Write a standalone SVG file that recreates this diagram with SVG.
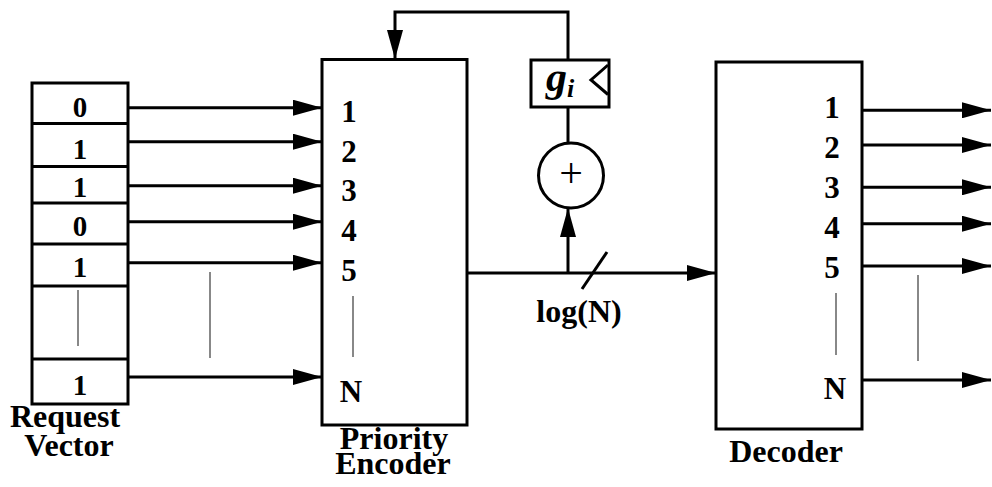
<svg xmlns="http://www.w3.org/2000/svg" width="992" height="487" viewBox="0 0 992 487">
<style>
.box{fill:#fff;stroke:#000;stroke-width:3}
.ln{fill:none;stroke:#000;stroke-width:3}
.gr{fill:none;stroke:#888;stroke-width:2}
.t{font-family:"Liberation Serif","Times New Roman",serif;font-weight:bold;fill:#000}
.d{font-size:29px;text-anchor:middle}
.l{font-size:31px;text-anchor:middle}
.c{font-size:32px;text-anchor:middle}
</style>
<defs>
<marker id="ah" markerUnits="userSpaceOnUse" markerWidth="29" markerHeight="16" refX="29" refY="8" orient="auto">
<path d="M0,0 L29,8 L0,16 z" fill="#000"/>
</marker>
</defs>
<rect width="992" height="487" fill="#fff"/>
<g id="request-vector">
<rect class="box" x="32" y="83" width="96" height="321"/>
<line class="ln" x1="32" y1="123.5" x2="128" y2="123.5"/>
<line class="ln" x1="32" y1="166.5" x2="128" y2="166.5"/>
<line class="ln" x1="32" y1="203" x2="128" y2="203"/>
<line class="ln" x1="32" y1="244" x2="128" y2="244"/>
<line class="ln" x1="32" y1="286" x2="128" y2="286"/>
<line class="ln" x1="32" y1="359" x2="128" y2="359"/>
<line class="gr" x1="78" y1="290" x2="78" y2="346"/>
<text class="t d" x="80" y="117">0</text>
<text class="t d" x="80" y="159">1</text>
<text class="t d" x="80" y="197">1</text>
<text class="t d" x="80" y="236">0</text>
<text class="t d" x="80" y="277">1</text>
<text class="t d" x="80" y="395">1</text>
<text class="t c" x="65" y="427">Request</text>
<text class="t c" x="69" y="456">Vector</text>
</g>
<g id="priority-encoder">
<rect class="box" x="322" y="59.5" width="145" height="365.5"/>
<text class="t l" x="349" y="122">1</text>
<text class="t l" x="349" y="162">2</text>
<text class="t l" x="349" y="201">3</text>
<text class="t l" x="349" y="241">4</text>
<text class="t l" x="349" y="281">5</text>
<line class="gr" x1="353" y1="296" x2="353" y2="357"/>
<text class="t l" x="351" y="402">N</text>
<text class="t c" x="394" y="449">Priority</text>
<text class="t c" x="393" y="474">Encoder</text>
</g>
<g id="register">
<rect class="box" x="531" y="60" width="78" height="47"/>
<polyline class="ln" points="608,65 591,80 608,94.5"/>
<text x="546" y="91" font-family="'Liberation Serif','Times New Roman',serif" font-style="italic" font-weight="bold" font-size="42">g<tspan font-size="26" dy="6" dx="0">i</tspan></text>
</g>
<g id="adder">
<circle class="box" cx="571" cy="175.5" r="32.5"/>
<text x="571" y="187" font-family="'Liberation Serif','Times New Roman',serif" font-size="42" text-anchor="middle">+</text>
</g>
<g id="decoder">
<rect class="box" x="716" y="62" width="146" height="367"/>
<text class="t l" x="832" y="118">1</text>
<text class="t l" x="832" y="158">2</text>
<text class="t l" x="832" y="198">3</text>
<text class="t l" x="832" y="238">4</text>
<text class="t l" x="832" y="278">5</text>
<line class="gr" x1="836" y1="293" x2="836" y2="355"/>
<text class="t l" x="835" y="399">N</text>
<text class="t c" x="786" y="462">Decoder</text>
</g>
<g id="connectors">
<line class="ln" x1="128" y1="107.7" x2="322" y2="107.7" marker-end="url(#ah)"/>
<line class="ln" x1="128" y1="141.7" x2="322" y2="141.7" marker-end="url(#ah)"/>
<line class="ln" x1="128" y1="185.7" x2="322" y2="185.7" marker-end="url(#ah)"/>
<line class="ln" x1="128" y1="221.7" x2="322" y2="221.7" marker-end="url(#ah)"/>
<line class="ln" x1="128" y1="262.7" x2="322" y2="262.7" marker-end="url(#ah)"/>
<line class="ln" x1="128" y1="377" x2="322" y2="377" marker-end="url(#ah)"/>
<line class="gr" x1="210" y1="272" x2="210" y2="358"/>
<polyline class="ln" points="568,60 568,12 395,12 395,59" marker-end="url(#ah)"/>
<line class="ln" x1="568" y1="107" x2="568" y2="143"/>
<line class="ln" x1="467" y1="273" x2="716" y2="273" marker-end="url(#ah)"/>
<line class="ln" x1="568" y1="273" x2="568" y2="208" marker-end="url(#ah)"/>
<line class="ln" x1="582" y1="289" x2="607" y2="252"/>
<text class="t c" x="579" y="322">log(N)</text>
<line class="ln" x1="862" y1="110.3" x2="991" y2="110.3" marker-end="url(#ah)"/>
<line class="ln" x1="862" y1="145" x2="991" y2="145" marker-end="url(#ah)"/>
<line class="ln" x1="862" y1="187.3" x2="991" y2="187.3" marker-end="url(#ah)"/>
<line class="ln" x1="862" y1="223.7" x2="991" y2="223.7" marker-end="url(#ah)"/>
<line class="ln" x1="862" y1="266" x2="991" y2="266" marker-end="url(#ah)"/>
<line class="ln" x1="862" y1="380" x2="991" y2="380" marker-end="url(#ah)"/>
<line class="gr" x1="918" y1="275" x2="918" y2="361"/>
</g>
</svg>
